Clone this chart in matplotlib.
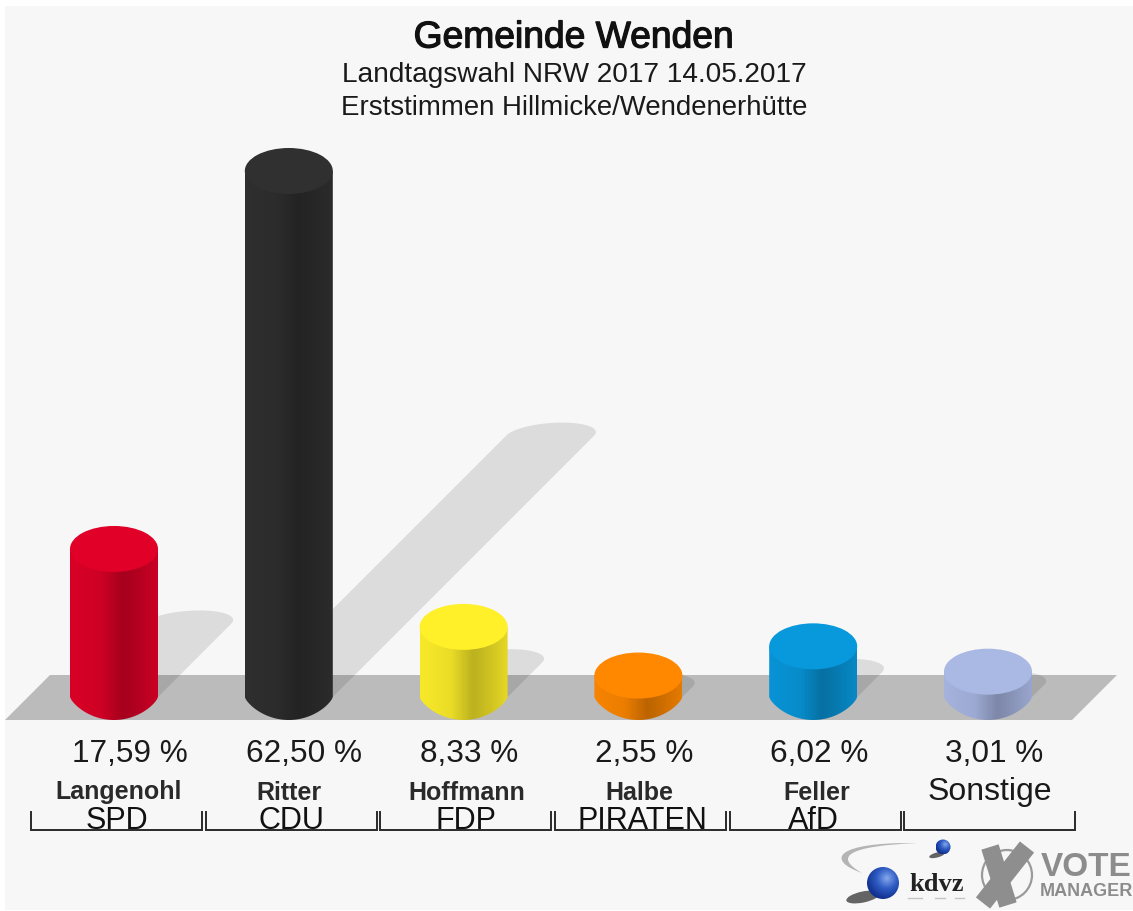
import numpy as np
import matplotlib
matplotlib.use('Agg')
import matplotlib.pyplot as plt
import matplotlib.patheffects as pe
from matplotlib.colors import LinearSegmentedColormap, to_rgb
from matplotlib.patches import Circle, Ellipse, PathPatch, Polygon, Rectangle
from matplotlib.path import Path

plt.rcParams['font.family'] = ['Liberation Sans', 'DejaVu Sans']

# daten
candidates = ['Langenohl', 'Ritter', 'Hoffmann', 'Halbe', 'Feller', 'Sonstige']
parties = ['SPD', 'CDU', 'FDP', 'PIRATEN', 'AfD', '']
shares = [17.59, 62.50, 8.33, 2.55, 6.02, 3.01]
share_labels = ['17,59 %', '62,50 %', '8,33 %', '2,55 %', '6,02 %', '3,01 %']
colors = ['#e00028', '#303030', '#fff02a', '#ff8800', '#0898dc', '#aab8e4']

W, H = 1133, 911
fig = plt.figure(figsize=(W / 100, H / 100), dpi=100, facecolor='white')

# hintergrund in pixelkoordinaten
bg = fig.add_axes([0, 0, 1, 1])
bg.set_xlim(0, W)
bg.set_ylim(H, 0)
bg.axis('off')
bg.add_patch(Rectangle((5, 6), W - 5, 904, fc='#f7f7f7', ec='none'))
bg.add_patch(Polygon([(5, 720), (1072, 720), (1117, 675), (50, 675)], fc='#bbbbbb', ec='none'))

# datenachse: balken 0..5, prozent
X0, DX = 114.0, 174.8   # pixel von balken 0, abstand
Y0, DY = 697.0, 8.416   # pixel von 0 %, pixel je prozent
ax = fig.add_axes([0, 0, 1, 1])
ax.set_xlim(-X0 / DX, (W - X0) / DX)
ax.set_ylim((Y0 - H) / DY, Y0 / DY)
ax.axis('off')
ax.patch.set_alpha(0)

RX = 44 / DX
RY = 23 / DY
SH_RY = 13 / DY
SH_SKEW = 12 / DX
SH_K = 0.497
SH_X = SH_K * DY / DX  # schatten-versatz in x je prozent

t = np.linspace(0, np.pi, 60)

# schatten
for i, v in enumerate(shares):
    sx = i + v * SH_X
    sy = v * SH_K
    arc_x = sx + RX * np.cos(t) + SH_SKEW * np.sin(t)
    arc_y = sy + SH_RY * np.sin(t)
    pts = [(i + RX, 0)] + list(zip(arc_x, arc_y)) + [(i - RX, 0)]
    ax.add_patch(Polygon(pts, fc='black', alpha=0.105, ec='none', zorder=2))

# zylinder
stops = [(0.0, 0.97), (0.35, 0.92), (0.6, 0.74), (0.7, 0.77), (1.0, 0.9)]
for i, v in enumerate(shares):
    rgb = np.array(to_rgb(colors[i]))
    cmap = LinearSegmentedColormap.from_list(
        'side', [(p, tuple(rgb * f)) for p, f in stops])
    im = ax.imshow(np.linspace(0, 1, 200).reshape(1, -1), cmap=cmap, aspect='auto',
                   extent=[i - RX, i + RX, -RY, v], zorder=3)
    u = np.linspace(-1, 1, 80)
    outline = [(i - RX, v)] + list(zip(i + RX * u, -RY * (1 - u ** 2) ** 0.75)) + [(i + RX, v)]
    clip = Polygon(outline, transform=ax.transData, fc='none', ec='none')
    ax.add_patch(clip)
    im.set_clip_path(clip)
    ax.add_patch(Ellipse((i, v), 2 * RX, 2 * RY, fc=colors[i], ec='none', zorder=4))
ax.set_xlim(-X0 / DX, (W - X0) / DX)
ax.set_ylim((Y0 - H) / DY, Y0 / DY)

# titel
tc = '#1a1a1a'
bg.text(574, 47.5, 'Gemeinde Wenden', ha='center', va='baseline', fontsize=26.8,
        color='#111111', path_effects=[pe.withStroke(linewidth=0.9, foreground='#111111')])
bg.text(574, 82.5, 'Landtagswahl NRW 2017 14.05.2017', ha='center', va='baseline', fontsize=20.2, color=tc)
bg.text(574, 115, 'Erststimmen Hillmicke/Wendenerhütte', ha='center', va='baseline', fontsize=19.9, color=tc)

# beschriftung
value_x = [130, 304, 469, 644, 819, 994]
name_x = [119, 289, 467, 639, 817, 990]
party_x = [117, 291, 466, 642, 813, 989]
left = [31, 205.5, 380, 555, 730, 904]
for i in range(len(shares)):
    bg.text(value_x[i], 762, share_labels[i], ha='center', va='baseline', fontsize=22.7, color=tc)
    if parties[i]:
        bg.text(name_x[i], 799.5, candidates[i], ha='center', va='baseline', fontsize=18,
                fontweight='bold', color='#2a2a2a')
        bg.text(party_x[i], 829, parties[i], ha='center', va='baseline', fontsize=22, color='#111111')
    else:
        bg.text(name_x[i], 800, candidates[i], ha='center', va='baseline', fontsize=23, color=tc)
    bg.plot([left[i], left[i], left[i] + 171, left[i] + 171], [812, 830, 830, 812],
            color='#2a2a2a', lw=1.4, solid_joinstyle='miter')


def sphere(cx, cy, r, light, dark):
    # kugel mit radialem verlauf
    yy, xx = np.mgrid[-1:1:80j, -1:1:80j]
    d = np.clip(np.hypot(xx - 0.25, yy + 0.3) / 1.3, 0, 1)
    cm = LinearSegmentedColormap.from_list('ball', [light, '#2f5cc4', dark])
    im = bg.imshow(d, cmap=cm, vmin=0, vmax=1, extent=[cx - r, cx + r, cy + r, cy - r],
                   aspect='auto', zorder=5)
    c = Circle((cx, cy), r, transform=bg.transData, fc='none', ec='none')
    bg.add_patch(c)
    im.set_clip_path(c)


# logo kdvz
bg.add_patch(Ellipse((863, 897), 34, 11, angle=-12, fc='#333333', ec='none', alpha=0.75, zorder=4))
bg.add_patch(Ellipse((937, 855), 16, 5, angle=-15, fc='#333333', ec='none', alpha=0.75, zorder=4))
sphere(883, 883, 16, '#86a8ec', '#123290')
sphere(943, 847, 7.5, '#86a8ec', '#123290')
swoosh = Path([(862, 873), (825, 860), (835, 842), (917, 843),
               (850, 846), (832, 856), (862, 873), (862, 873)],
              [Path.MOVETO, Path.CURVE4, Path.CURVE4, Path.CURVE4,
               Path.CURVE4, Path.CURVE4, Path.CURVE4, Path.CLOSEPOLY])
bg.add_patch(PathPatch(swoosh, fc='#b4b4b4', ec='none', zorder=4))
bg.text(937, 891, 'kdvz', ha='center', va='baseline', fontsize=19, fontweight='bold',
        family='Liberation Serif', color='#222222', zorder=5)
for a, b in [(908, 922), (935, 945), (955, 964)]:
    bg.plot([a, b], [897.5, 897.5], color='#c4c4c4', lw=1, zorder=5)

# logo vote manager
bg.add_patch(Circle((1007, 875), 25, fc='none', ec='#9a9a9a', lw=1.6, zorder=4))
bg.plot([990, 1008], [847, 905], color='#8e8e8e', lw=13, solid_capstyle='butt', zorder=5)
bg.plot([1027, 983], [847, 903], color='#8e8e8e', lw=13, solid_capstyle='butt', zorder=5)
bg.text(1086, 876.5, 'VOTE', ha='center', va='baseline', fontsize=24, fontweight='bold',
        color='#8c8c8c', zorder=5)
bg.text(1086, 896, 'MANAGER', ha='center', va='baseline', fontsize=13, fontweight='bold',
        color='#8c8c8c', zorder=5)
bg.set_xlim(0, W)
bg.set_ylim(H, 0)

fig.savefig('out.png', dpi=100)
